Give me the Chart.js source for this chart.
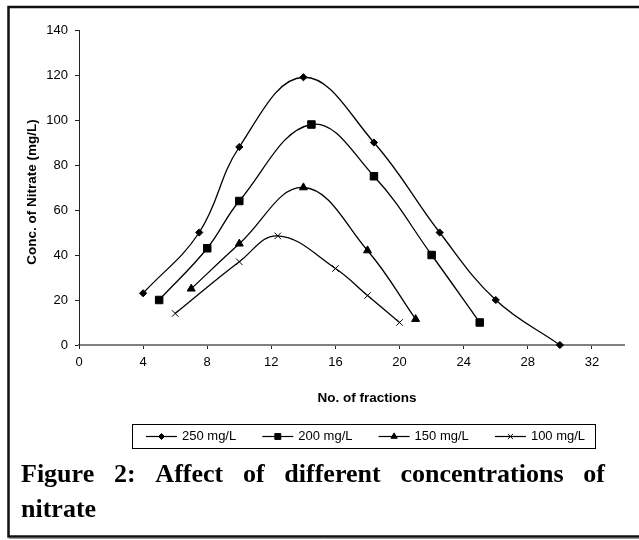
<!DOCTYPE html>
<html>
<head>
<meta charset="utf-8">
<script src="https://cdn.jsdelivr.net/npm/chart.js@4/dist/chart.umd.min.js"></script>
<style>
html,body{margin:0;padding:0;background:#fff;}
canvas{display:block;}
</style>
</head>
<body>
<canvas id="c" width="639" height="540"></canvas>
<script>
// ---- data ----
const seriesLabels = ['250 mg/L', '200 mg/L', '150 mg/L', '100 mg/L'];
const x250 = [4, 7.5, 10, 14, 18.4, 22.5, 26, 30];
const y250 = [23, 50, 88, 119, 90, 50, 20, 0];
const x200 = [5, 8, 10, 14.5, 18.4, 22, 25];
const y200 = [20, 43, 64, 98, 75, 40, 10];
const x150 = [7, 10, 14, 18, 21];
const y150 = [25, 45, 70, 42, 11.5];
const x100 = [6, 10, 12.4, 16, 18, 20];
const y100 = [14, 37, 48.5, 34, 22, 10];
const xTickValues = [0, 4, 8, 12, 16, 20, 24, 28, 32];
const yTickValues = [0, 20, 40, 60, 80, 100, 120, 140];
const xTitle = 'No. of fractions';
const yTitle = 'Conc. of Nitrate (mg/L)';
const captionLine1 = 'Figure 2: Affect of different concentrations of';
const captionLine2 = 'nitrate';

// ---- styling ----
const pointStyles = ['rectRot', 'rect', 'triangle', 'crossRot'];
const pointRadii = [3.6, 5.3, 4.6, 4.6];
const legendRadii = [3.0, 4.2, 3.6, 3.6];

function pts(xs, ys) { return xs.map((x, i) => ({x: x, y: ys[i]})); }
const seriesData = [pts(x250, y250), pts(x200, y200), pts(x150, y150), pts(x100, y100)];

const datasets = seriesData.map((d, i) => ({
  label: seriesLabels[i],
  data: d,
  showLine: true,
  tension: 0.4,
  borderColor: '#000',
  backgroundColor: '#000',
  borderWidth: 1.3,
  pointStyle: pointStyles[i],
  pointRadius: pointRadii[i],
  pointBorderWidth: 1,
  pointBackgroundColor: '#000',
  pointBorderColor: '#000',
  clip: false
}));

const deco = {
  id: 'deco',
  beforeDraw(chart) {
    const ctx = chart.ctx;
    ctx.save();
    ctx.fillStyle = '#fff';
    ctx.fillRect(0, 0, chart.width, chart.height);
    ctx.restore();
  },
  afterDraw(chart) {
    const ctx = chart.ctx;
    ctx.save();
    // outer frame
    ctx.strokeStyle = '#111';
    ctx.lineWidth = 2.5;
    ctx.strokeRect(8.5, 7, 700, 529.5);
    ctx.strokeStyle = '#999';
    ctx.lineWidth = 1;
    ctx.beginPath(); ctx.moveTo(9, 538.5); ctx.lineTo(700, 538.5); ctx.stroke();

    // axis titles
    ctx.fillStyle = '#000';
    ctx.font = 'bold 13.5px "Liberation Sans", Arial, sans-serif';
    ctx.textAlign = 'center';
    ctx.textBaseline = 'middle';
    ctx.fillText(xTitle, 367, 398);
    ctx.save();
    ctx.translate(32, 192);
    ctx.rotate(-Math.PI / 2);
    ctx.fillText(yTitle, 0, 0);
    ctx.restore();

    // legend
    ctx.strokeStyle = '#000';
    ctx.lineWidth = 1;
    ctx.strokeRect(132.5, 424.5, 463, 24);
    ctx.font = '13px "Liberation Sans", Arial, sans-serif';
    ctx.textAlign = 'left';
    const ly = 436.5;
    seriesLabels.forEach((lab, i) => {
      const x0 = 146 + i * 116.3;
      ctx.strokeStyle = '#000';
      ctx.lineWidth = 1.2;
      ctx.beginPath(); ctx.moveTo(x0, ly); ctx.lineTo(x0 + 31, ly); ctx.stroke();
      ctx.fillStyle = '#000';
      ctx.lineWidth = 1;
      Chart.helpers.drawPoint(ctx, {pointStyle: pointStyles[i], radius: legendRadii[i], rotation: 0, borderWidth: 1}, x0 + 15.5, ly);
      ctx.fillStyle = '#000';
      ctx.fillText(lab, x0 + 36, ly);
    });

    // caption (justified first line)
    ctx.font = 'bold 26px "Liberation Serif", "Times New Roman", serif';
    ctx.textBaseline = 'alphabetic';
    ctx.fillStyle = '#000';
    const words = captionLine1.split(' ');
    const left = 21, right = 605;
    const widths = words.map(w => ctx.measureText(w).width);
    const total = widths.reduce((a, b) => a + b, 0);
    const gap = (right - left - total) / (words.length - 1);
    let cx = left;
    words.forEach((w, i) => { ctx.fillText(w, cx, 482); cx += widths[i] + gap; });
    ctx.fillText(captionLine2, left, 517);
    ctx.restore();
  }
};

new Chart(document.getElementById('c'), {
  type: 'scatter',
  data: {datasets: datasets},
  options: {
    responsive: false,
    animation: false,
    devicePixelRatio: 1,
    layout: {padding: {left: 0, top: 30, right: 15, bottom: 0}},
    plugins: {legend: {display: false}, tooltip: {enabled: false}},
    scales: {
      x: {
        type: 'linear',
        min: 0, max: 34,
        afterBuildTicks: a => { a.ticks = xTickValues.map(v => ({value: v})); },
        afterFit: s => { s.height = 195; },
        grid: {drawOnChartArea: false, drawTicks: true, tickLength: 4, tickColor: '#222', tickWidth: 1},
        border: {display: true, color: '#808080', width: 2},
        ticks: {color: '#000', padding: 6, maxRotation: 0, font: {family: '"Liberation Sans", Arial, sans-serif', size: 13}},
        title: {display: false}
      },
      y: {
        type: 'linear',
        min: 0, max: 140,
        afterBuildTicks: a => { a.ticks = yTickValues.map(v => ({value: v})); },
        afterFit: s => { s.width = 79; },
        grid: {drawOnChartArea: false, drawTicks: true, tickLength: 4, tickColor: '#222', tickWidth: 1},
        border: {display: true, color: '#222', width: 1},
        ticks: {color: '#000', padding: 7, font: {family: '"Liberation Sans", Arial, sans-serif', size: 13}},
        title: {display: false}
      }
    }
  },
  plugins: [deco]
});
</script>
</body>
</html>
